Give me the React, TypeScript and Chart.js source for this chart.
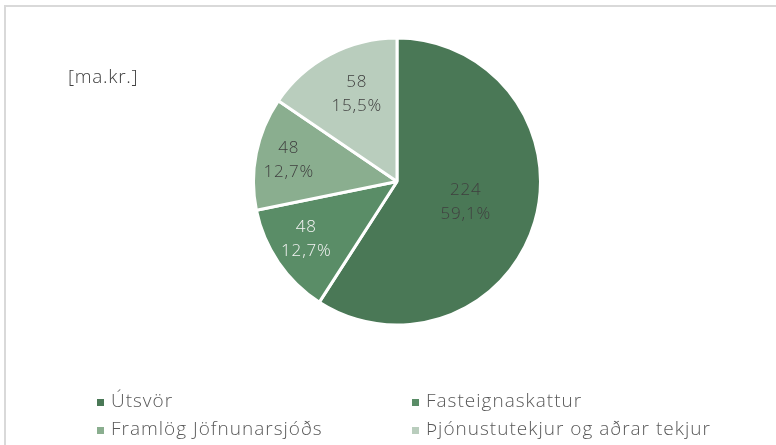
import React, { useEffect, useRef } from "react";
import { Chart, registerables } from "chart.js";

Chart.register(...registerables);

const categories = ["Útsvör", "Fasteignaskattur", "Framlög Jöfnunarsjóðs", "Þjónustutekjur og aðrar tekjur"];
const amounts = [224, 48, 48, 58];
const shares = [59.1, 12.7, 12.7, 15.5];
const unitLabel = "[ma.kr.]";

const sliceColors = ["#4a7856", "#5a8d67", "#8aae8f", "#b9cdbd"];
const labelColors = ["#404040", "#f4f4f4", "#404040", "#404040"];
const FONT = "'Open Sans', 'Noto Sans', sans-serif";

const decorPlugin = {
  id: "decor",
  beforeDraw(chart: any) {
    const ctx = chart.ctx;
    ctx.save();
    ctx.fillStyle = "#ffffff";
    ctx.fillRect(0, 0, chart.width, chart.height);
    ctx.strokeStyle = "#d9d9d9";
    ctx.lineWidth = 2;
    ctx.strokeRect(5, 6, chart.width + 20, chart.height + 20);
    ctx.restore();
  },
  afterDraw(chart: any, _args: any, opts: any) {
    const ctx = chart.ctx;
    ctx.save();
    // unit label
    ctx.font = `300 19px ${FONT}`;
    (ctx as any).letterSpacing = "0.7px";
    ctx.fillStyle = "#404040";
    ctx.textAlign = "left";
    ctx.textBaseline = "middle";
    ctx.fillText(unitLabel, 68, 78);

    // data labels
    const meta = chart.getDatasetMeta(0);
    const fr: number[] = opts.fractions;
    const nudge: number[][] = opts.nudges;
    ctx.font = `300 17px ${FONT}`;
    (ctx as any).letterSpacing = "0.8px";
    ctx.textAlign = "center";
    meta.data.forEach((arc: any, i: number) => {
      const p = arc.getProps(["x", "y", "startAngle", "endAngle", "outerRadius"], true);
      const mid = (p.startAngle + p.endAngle) / 2;
      const r = p.outerRadius * fr[i];
      const cx = p.x + Math.cos(mid) * r + nudge[i][0];
      const cy = p.y + Math.sin(mid) * r + nudge[i][1];
      ctx.fillStyle = labelColors[i];
      ctx.fillText(String(amounts[i]), cx, cy - 12);
      ctx.fillText(shares[i].toFixed(1).replace(".", ",") + "%", cx, cy + 12);
    });

    // legend
    const cols = [97, 412];
    const rows = [402, 430];
    ctx.font = `300 19px ${FONT}`;
    (ctx as any).letterSpacing = "1px";
    ctx.textAlign = "left";
    categories.forEach((c, i) => {
      const x = cols[i % 2];
      const y = rows[Math.floor(i / 2)];
      ctx.fillStyle = sliceColors[i];
      ctx.fillRect(x, y - 3, 7, 7);
      ctx.fillStyle = "#595959";
      ctx.fillText(c, x + 14, y);
    });
    ctx.restore();
  },
};

export default function App() {
  const ref = useRef<HTMLCanvasElement | null>(null);
  useEffect(() => {
    document.body.style.margin = "0";
    const canvas = ref.current!;
    const chart = new Chart(canvas, {
      type: "pie",
      data: {
        labels: categories,
        datasets: [
          {
            data: shares,
            backgroundColor: sliceColors,
            borderColor: "#ffffff",
            borderWidth: 3,
          },
        ],
      },
      options: {
        responsive: false,
        animation: false,
        layout: { padding: { left: 252, right: 234, top: 36, bottom: 118 } },
        plugins: {
          legend: { display: false },
          tooltip: { enabled: false },
          decor: { fractions: [0.5, 0.74, 0.77, 0.69], nudges: [[0, 0], [-3, -2], [0, 0], [6, 0]] },
        } as any,
      },
      plugins: [decorPlugin],
    });
    return () => chart.destroy();
  }, []);
  return (
    <div style={{ width: 776, height: 445, position: "relative", overflow: "hidden" }}>
      <canvas ref={ref} width={776} height={445} style={{ display: "block" }} />
    </div>
  );
}
